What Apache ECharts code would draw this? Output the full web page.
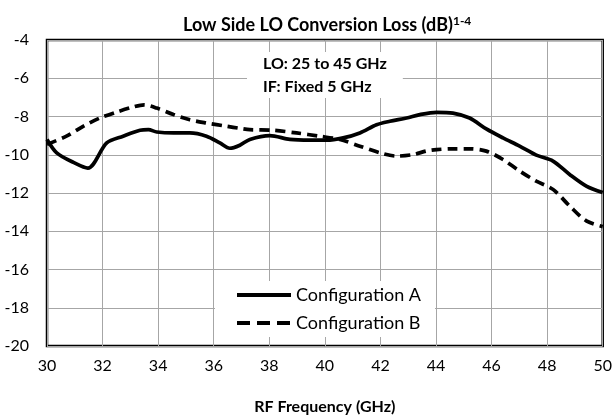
<!DOCTYPE html>
<html><head><meta charset="utf-8">
<script src="https://cdn.jsdelivr.net/npm/echarts@6/dist/echarts.min.js"></script>
<style>html,body{margin:0;padding:0;background:#fff}#c{width:615px;height:420px}</style>
</head><body><div id="c"></div>
<script>
const freqA = [30,30.35,30.95,31.47,32.15,32.74,33.35,33.65,33.95,34.55,35.14,35.74,36.22,36.58,36.94,37.3,38.02,38.74,39.46,40.06,40.66,41.26,41.86,42.34,42.94,43.42,44.02,44.61,45.21,45.81,46.41,47.01,47.61,48.21,48.81,49.41,50];
const lossA = [-9.2,-9.9,-10.4,-10.7,-9.38,-9.03,-8.72,-8.69,-8.81,-8.86,-8.86,-9.03,-9.38,-9.66,-9.5,-9.2,-9.0,-9.2,-9.24,-9.24,-9.12,-8.86,-8.43,-8.25,-8.08,-7.9,-7.78,-7.82,-8.08,-8.65,-9.12,-9.55,-10.02,-10.33,-11.03,-11.64,-11.98];
const freqB = [30,30.7,31.3,31.9,32.5,33.1,33.5,33.95,34.55,35.14,35.74,36.46,36.94,37.3,38.13,38.98,39.8,40.54,41.26,41.98,42.58,43.18,43.66,44.02,44.61,45.21,45.81,46.41,47.01,47.61,48.21,48.81,49.41,50];
const lossB = [-9.45,-9.03,-8.51,-8.08,-7.77,-7.5,-7.39,-7.56,-7.9,-8.17,-8.34,-8.51,-8.62,-8.69,-8.72,-8.86,-9.03,-9.2,-9.55,-9.9,-10.07,-9.99,-9.8,-9.73,-9.69,-9.69,-9.81,-10.25,-10.85,-11.38,-11.81,-12.68,-13.46,-13.76];
const seriesNames = ['Configuration A','Configuration B'];
const titleText = 'Low Side LO Conversion Loss (dB)';
const titleSup = '1-4';
const noteLines = ['LO: 25 to 45 GHz','IF: Fixed 5 GHz'];
const xName = 'RF Frequency (GHz)';

const font = 'Lato, "Open Sans", sans-serif';
const chart = echarts.init(document.getElementById('c'));
const pairs = (xs, ys) => xs.map((x, i) => [x, ys[i]]);
chart.setOption({
  animation: false,
  backgroundColor: '#fff',
  title: {
    text: '{t|' + titleText + '}{s|' + titleSup + '}',
    left: 178, top: 10,
    textStyle: {
      rich: {
        t: {fontFamily: font, fontWeight: 'bold', fontSize: 18, color: '#000'},
        s: {fontFamily: font, fontWeight: 'bold', fontSize: 12, color: '#000', verticalAlign: 'top', padding: [0,0,8,0]}
      }
    }
  },
  grid: {left: 47, right: 12, top: 40, bottom: 73, show: true, borderColor: '#000', borderWidth: 2.5},
  xAxis: {
    type: 'value', min: 30, max: 50, interval: 2,
    name: xName, nameLocation: 'middle', nameGap: 53,
    nameTextStyle: {fontFamily: font, fontWeight: 'bold', fontSize: 16, color: '#000'},
    axisLine: {show: false}, axisTick: {show: false},
    axisLabel: {fontFamily: font, fontSize: 16, color: '#000', margin: 12},
    splitLine: {show: true, lineStyle: {color: '#a6a6a6', width: 1}}
  },
  yAxis: {
    type: 'value', min: -20, max: -4, interval: 2,
    axisLine: {show: false}, axisTick: {show: false},
    axisLabel: {fontFamily: font, fontSize: 16, color: '#000', margin: 18},
    splitLine: {show: true, lineStyle: {color: '#a6a6a6', width: 1}}
  },
  legend: {
    orient: 'vertical', left: 215, top: 281,
    backgroundColor: '#fff', padding: [5, 14, 5, 20], itemGap: 10,
    itemWidth: 54, itemHeight: 14,
    itemStyle: {opacity: 0},
    textStyle: {fontFamily: font, fontSize: 18, color: '#000'},
    data: [
      {name: seriesNames[0], lineStyle: {width: 4, type: 'solid', color: '#000'}},
      {name: seriesNames[1], lineStyle: {width: 4, type: [13, 7], color: '#000'}}
    ]
  },
  graphic: [{
    type: 'text', left: 247, top: 52,
    style: {
      text: noteLines.join('\n'),
      font: 'bold 16px ' + font, fill: '#000', lineHeight: 23,
      backgroundColor: '#fff', padding: [0, 16, 0, 16], align: 'left'
    },
    z: 100
  }],
  series: [
    {name: seriesNames[0], type: 'line', data: pairs(freqA, lossA), smooth: 0.3, symbol: 'none', showSymbol: false,
     lineStyle: {color: '#000', width: 3.7}, itemStyle: {color: '#000'}},
    {name: seriesNames[1], type: 'line', data: pairs(freqB, lossB), smooth: 0.3, symbol: 'none', showSymbol: false,
     lineStyle: {color: '#000', width: 3.7, type: [10, 6]}, itemStyle: {color: '#000'}}
  ]
});
</script></body></html>
